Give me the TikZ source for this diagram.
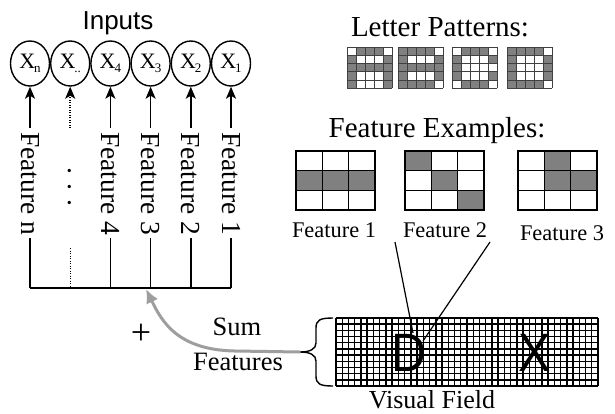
\documentclass[tikz,border=0pt]{standalone}
\usepackage{fontspec}
\setmainfont{Liberation Serif}
\newfontfamily\sansf{Liberation Sans}
\usetikzlibrary{arrows.meta,shapes.geometric}
\definecolor{cellgray}{RGB}{128,128,128}
\definecolor{arrowgray}{RGB}{158,158,158}
\newcommand\fs[1]{\fontsize{#1}{#1}\selectfont}
\newcommand\xs[1]{X\kern-1pt\raisebox{-4pt}{\fs{13}#1}}
\newcommand\lettergrid[3]{%
  \foreach \cc/\rr in {#3}{\fill[cellgray] ({#1+(\cc-1)*9},{#2+(\rr-1)*8.2}) rectangle ++(9,8.2);}
  \foreach \ii in {0,...,5}{%
    \draw[lgline] ({#1+\ii*9},#2) -- ++(0,41);
    \draw[lgline] (#1,{#2+\ii*8.2}) -- ++(45,0);}
}
\newcommand\featgrid[3]{%
  \foreach \cc/\rr in {#3}{\fill[cellgray] ({#1+(\cc-1)*26.33},{#2+(\rr-1)*19.67}) rectangle ++(26.33,19.67);}
  \foreach \ii in {0,...,3}{%
    \draw[fgline] ({#1+\ii*26.33},#2) -- ++(0,59);
    \draw[fgline] (#1,{#2+\ii*19.67}) -- ++(79,0);}
}
\begin{document}
\begin{tikzpicture}[x=1pt,y=-1pt,
  lgline/.style={line width=0.6pt, draw=black!75},
  fgline/.style={line width=1.5pt, line cap=rect},
  vfline/.style={line width=1.4pt},
  inp/.style={ellipse, draw, line width=1.4pt, minimum width=39pt, minimum height=45pt, inner sep=0pt, font=\fs{22}},
  feedarrow/.style={line width=1.6pt, -{Stealth[length=12pt,width=10pt,inset=3pt]}},
  flab/.style={rotate=-90, anchor=west, inner sep=3pt, font=\fs{27.5}},
  txt/.style={anchor=base, inner sep=0pt}]
\useasboundingbox (0,0) rectangle (615,413);
\fill[white] (0,0) rectangle (615,413);

% ---------- Inputs ----------
\node[txt, font=\sansf\fs{26}] (inputs) at (118,29) {Inputs};
\foreach \i/\s in {0/n,1/{..},2/4,3/3,4/2,5/1}{
  \node[inp] (c\i) at ({30+40.2*\i},63.5) {\xs{\s}};
  \coordinate (a\i) at ({30+40.2*\i},128);
  \coordinate (b\i) at ({30+40.2*\i},288);
}
\foreach \i/\lab in {0/Feature n,2/Feature 4,3/Feature 3,4/Feature 2,5/Feature 1}{
  \draw[feedarrow] (a\i) -- (c\i);
  \node[flab] (l\i) at ({30+40.2*\i},129) {\lab};
  \draw[line width=1.5pt] (l\i.east) -- (b\i);
}
% dotted column
\draw[feedarrow, dash pattern=on 1pt off 1.5pt] (a1) -- (c1);
\node[rotate=-90, font=\fs{28}] (dots) at (70.2,187) {.\,\,.\,\,.};
\coordinate (dt) at (70.2,248);
\draw[line width=1.2pt, dash pattern=on 1pt off 1.5pt] (dt) -- (b1);
% bus
\draw[line width=1.5pt] (b0) -- (b5);

% ---------- Letter patterns ----------
\node[txt, font=\fs{29}] (lp) at (440,36) {Letter Patterns:};
\lettergrid{347}{47}{2/1,3/1,4/1,1/2,5/2,1/3,2/3,3/3,4/3,5/3,1/4,5/4,1/5,5/5}
\lettergrid{398}{47}{1/1,2/1,3/1,4/1,1/2,5/2,1/3,2/3,3/3,4/3,5/3,1/4,5/4,1/5,2/5,3/5,4/5}
\lettergrid{452}{47}{2/1,3/1,4/1,1/2,5/2,1/3,1/4,5/4,2/5,3/5,4/5}
\lettergrid{507}{47}{1/1,2/1,3/1,4/1,1/2,5/2,1/3,5/3,1/4,5/4,1/5,2/5,3/5,4/5}

% ---------- Feature examples ----------
\node[txt, font=\fs{29}] (fe) at (437,137) {Feature Examples:};
\featgrid{296}{151}{1/2,2/2,3/2}
\featgrid{405}{151}{1/1,2/2,3/3}
\featgrid{518}{151}{2/1,2/2,3/2}
\node[txt, font=\fs{22.4}] (f1) at (334,237) {Feature 1};
\node[txt, font=\fs{22.4}] (f2) at (445,237) {Feature 2};
\node[txt, font=\fs{22.4}] (f3) at (562,240) {Feature 3};

% ---------- Visual field ----------
\foreach \i in {0,...,42}{\draw[vfline] ({336+\i*6.238},318) -- ++(0,68);}
\foreach \j in {0,...,11}{\draw[vfline] (336,{318+\j*6.182}) -- ++(262,0);}
\node[txt, font=\sansf\fs{54}] (D) at (409,371) {\scalebox{0.9}[1]{D}};
\node[txt, font=\sansf\fs{54}] (X) at (535,371) {\scalebox{0.9}[1]{X}};
\node[txt, font=\fs{26}] (vf) at (432,408) {Visual Field};

% lines from feature 2 to D
\coordinate (p1) at (395,242);
\coordinate (p2) at (490,242);
\coordinate (d1) at (413,333);
\coordinate (d2) at (423,341);
\draw[line width=1.2pt] (p1) -- (d1);
\draw[line width=1.2pt] (p2) -- (d2);

% brace
\coordinate (bt) at (300,352);
\draw[line width=1.4pt] (333,318) .. controls (320,318) and (316,320) .. (316,328) -- (316,343)
  .. controls (316,349) and (310,352) .. (bt)
  .. controls (310,352) and (316,355) .. (316,361) -- (316,376)
  .. controls (316,384) and (320,386) .. (333,386);

% sum arrow
\coordinate (st) at (146,289);
\draw[arrowgray, line width=3pt, -{Latex[length=14pt,width=13pt]}] (bt) -- (235,351) .. controls (178,350) and (162,322) .. (st);
\node[txt, font=\fs{26.5}] (sum) at (237,335) {Sum};
\node[txt, font=\fs{26.5}] (feat) at (238,370) {Features};
\node[font=\fs{36}, inner sep=0pt] (plus) at (141,334) {+};
\end{tikzpicture}
\end{document}
